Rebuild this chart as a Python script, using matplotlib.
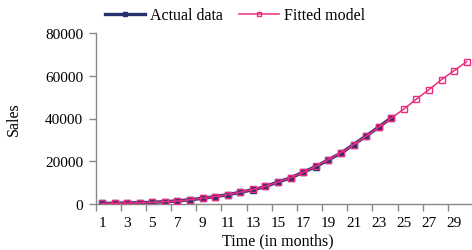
import matplotlib
matplotlib.use("Agg")
import matplotlib.pyplot as plt
from matplotlib.ticker import FixedLocator, NullFormatter

plt.rcParams['font.family'] = ['Liberation Serif', 'DejaVu Serif']

months = list(range(1, 31))
actual = [300, 300, 500, 600, 800, 1100, 1450, 2000, 2650, 3500, 4350, 5500,
          6650, 8200, 10300, 12200, 14900, 17500, 20700, 23800, 27800, 31800, 36000, 40300]
fitted = [250, 350, 450, 600, 850, 1100, 1400, 2000, 2700, 3500, 4400, 5500,
          6800, 8300, 10200, 12300, 14800, 17700, 20800, 24000, 27700, 31700, 35900, 40200,
          44400, 49100, 53500, 58200, 62400, 66600]
yticks = [0, 20000, 40000, 60000, 80000]
xticklabels = [str(m) for m in months[::2]]

W, H = 472, 251
fig = plt.figure(figsize=(W / 100, H / 100), dpi=100)
ax = fig.add_axes([95.7 / W, 46 / H, 377.3 / W, 171 / H])

xa = list(range(len(actual)))
xf = list(range(len(fitted)))
ax.plot(xa, actual, color='#27306e', lw=2.4, marker='s', ms=4,
        mfc='#27306e', mec='#27306e', label='Actual data', zorder=2)
ax.plot(xf, fitted, color='#ea2d80', lw=1.1, marker='s', ms=4,
        mfc='none', mec='#ea2d80', mew=1.0, label='Fitted model', zorder=3)

ax.set_xlim(-0.5, 29.5)
ax.set_ylim(0, 80000)
ax.set_yticks(yticks)
ax.set_yticklabels([str(v) for v in yticks])
ax.set_xticks(list(range(0, 30, 2)))
ax.set_xticklabels(xticklabels)
ax.tick_params(axis='x', which='major', length=0, pad=9, labelsize=11)
ax.xaxis.set_minor_locator(FixedLocator([i - 0.5 for i in range(0, 31, 2)]))
ax.xaxis.set_minor_formatter(NullFormatter())
ax.tick_params(axis='x', which='minor', length=5, color='#888888', width=1)
ax.tick_params(axis='y', length=5, color='#888888', width=1, labelsize=11, pad=4)

for s in ['top', 'right']:
    ax.spines[s].set_visible(False)
for s in ['left', 'bottom']:
    ax.spines[s].set_color('#888888')
    ax.spines[s].set_linewidth(1)

ax.set_ylabel('Sales', fontsize=11.5, labelpad=17)
ax.set_xlabel('Time (in months)', fontsize=11.5, labelpad=2)
ax.xaxis.label.set_x((277.5 - 95.7) / 377.3)

fig.legend(loc='center', bbox_to_anchor=(235 / W, 1 - 16.5 / H), ncol=2, frameon=False,
           fontsize=11.5, handlelength=2.5, columnspacing=1.0, handletextpad=0.3,
           borderpad=0, markerscale=0.85)

fig.savefig('out.png', dpi=100)
